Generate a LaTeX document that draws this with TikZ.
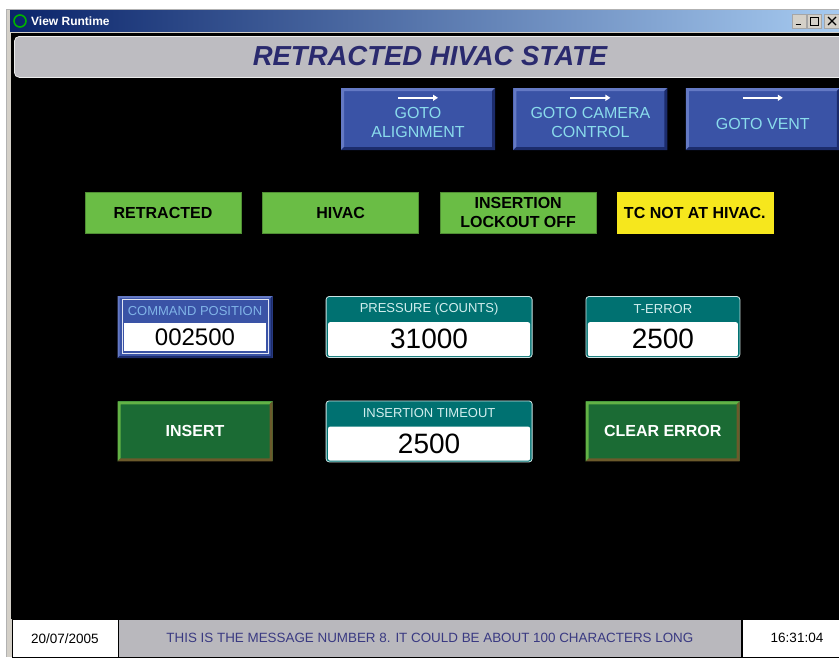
\documentclass[tikz,border=0pt]{standalone}
\usepackage{fontspec}
\setmainfont{Liberation Sans}
\usetikzlibrary{arrows.meta,positioning}

\definecolor{winnavy}{HTML}{0A246A}
\definecolor{winsky}{HTML}{A6CAF0}
\definecolor{winface}{HTML}{D4D0C8}
\definecolor{hdrgrey}{HTML}{BDBCC1}
\definecolor{hdrtext}{HTML}{2A2A6E}
\definecolor{gotofill}{HTML}{3A53A6}
\definecolor{gotolight}{HTML}{6479C4}
\definecolor{gotodark}{HTML}{1C2C6C}
\definecolor{gototext}{HTML}{8ADCEC}
\definecolor{stategreen}{HTML}{6ABD45}
\definecolor{stateyellow}{HTML}{F6E71D}
\definecolor{panelteal}{HTML}{007171}
\definecolor{tealtext}{HTML}{D2EEEE}
\definecolor{cmdtext}{HTML}{80B4E8}
\definecolor{btngreen}{HTML}{1B6B34}
\definecolor{btnlight}{HTML}{62B246}
\definecolor{btndark}{HTML}{6C5A2B}
\definecolor{msggrey}{HTML}{B9B8BD}
\definecolor{msgtext}{HTML}{3A3A82}

% raised edge: light top/left, dark bottom/right
\newcommand{\hmibevel}[3]{%
  \fill[#1] (path picture bounding box.south west) -- (path picture bounding box.north west)
    -- (path picture bounding box.north east) -- ([shift={(-#3,-#3)}]path picture bounding box.north east)
    -- ([shift={(#3,-#3)}]path picture bounding box.north west) -- ([shift={(#3,#3)}]path picture bounding box.south west) -- cycle;
  \fill[#2] (path picture bounding box.south west) -- (path picture bounding box.south east)
    -- (path picture bounding box.north east) -- ([shift={(-#3,-#3)}]path picture bounding box.north east)
    -- ([shift={(-#3,#3)}]path picture bounding box.south east) -- ([shift={(#3,#3)}]path picture bounding box.south west) -- cycle;
}

\begin{document}
\begin{tikzpicture}[x=1pt,y=-1pt,
  node distance=18pt,
  every node/.style={inner sep=0pt,align=center},
  winbtn/.style={minimum width=14pt,minimum height=14pt,fill=winface,draw=gray!70,line width=.5pt},
  gotobtn/.style={minimum width=154pt,minimum height=62pt,fill=gotofill,text=gototext,text height=37.5pt,
    font=\fontsize{16}{19}\selectfont,path picture={\hmibevel{gotolight}{gotodark}{3pt}}},
  gotoarrow/.style={-{Triangle[length=5pt,width=6pt]},white,line width=2pt},
  statebox/.style={minimum width=156pt,minimum height=41pt,fill=stategreen,draw=stategreen!75!black,
    line width=.6pt,font=\bfseries\fontsize{16}{19}\selectfont},
  cmdpanel/.style={minimum width=155pt,minimum height=62pt,fill=gotofill,
    path picture={\hmibevel{gotolight}{gotodark}{2pt}}},
  databox/.style={fill=panelteal,draw=white!80!panelteal,line width=.8pt,rounded corners=3pt,minimum height=61pt},
  datalabel/.style={text=tealtext,font=\fontsize{13}{15}\selectfont},
  dataval/.style={fill=white,rounded corners=2pt,minimum height=34pt,font=\fontsize{28}{30}\selectfont},
  cmdbtn/.style={minimum width=155pt,minimum height=60pt,fill=btngreen,text=white,
    font=\bfseries\fontsize{16}{19}\selectfont,path picture={\hmibevel{btnlight}{btndark}{3pt}}},
  barbox/.style={minimum height=38pt,draw=black,line width=.6pt,font=\fontsize{13.5}{16}\selectfont}
]
\useasboundingbox (0,0) rectangle (839,657);
\clip (0,0) rectangle (839,657);

% window frame and title bar
\fill[white] (0,0) rectangle (839,657);
\fill[winface] (6,9) rectangle (839,657);
\draw[gray!60,line width=.6pt] (6.3,657) -- (6.3,9.3) -- (839,9.3);
\shade[left color=winnavy,right color=winsky] (10,10) rectangle (839,31);
\fill[black] (11,33) rectangle (839,619);
\draw[green!70!black,line width=1.6pt] (20,21) circle (6pt);
\node[anchor=west,text=white,font=\bfseries\fontsize{12}{14}\selectfont] (wintitle) at (31,21) {View Runtime};
\node[winbtn] (winmin) at (799,21) {};
\node[winbtn,right=1pt of winmin] (winmax) {};
\node[winbtn,right=2pt of winmax,minimum width=16pt] (winclose) {};
\draw[line width=1.6pt] ([shift={(-3.5pt,-3.5pt)}]winmin.center) -- ([shift={(2pt,-3.5pt)}]winmin.center);
\draw[line width=.7pt] ([shift={(-4pt,4pt)}]winmax.center) rectangle ([shift={(4pt,-4pt)}]winmax.center);
\draw[line width=1.4pt] ([shift={(-4pt,3.6pt)}]winmax.center) -- ([shift={(4pt,3.6pt)}]winmax.center);
\draw[line width=1.2pt] ([shift={(-4pt,4pt)}]winclose.center) -- ([shift={(4pt,-4pt)}]winclose.center)
  ([shift={(-4pt,-4pt)}]winclose.center) -- ([shift={(4pt,4pt)}]winclose.center);

% header
\node[fill=hdrgrey,draw=white!85!gray,line width=.8pt,rounded corners=5pt,minimum width=840pt,
  minimum height=41pt,anchor=north west] (header) at (14,36) {};
\node[text=hdrtext,font=\bfseries\itshape\fontsize{27.5}{30}\selectfont] (headtitle) at (430,56.5) {RETRACTED HIVAC STATE};

% goto buttons
\node[gotobtn] (align) at (418,119) {GOTO\\ALIGNMENT};
\node[gotobtn,right=of align] (camera) {GOTO CAMERA\\CONTROL};
\node[gotobtn,right=of camera,text height=21.5pt] (vent) {GOTO VENT};
\foreach \btn in {align,camera,vent}
  \draw[gotoarrow] ([shift={(-20pt,-10pt)}]\btn.north) -- ([shift={(20pt,-10pt)}]\btn.north);

% state indicators
\node[statebox] (retracted) at (163,212.5) {RETRACTED};
\node[statebox,right=21pt of retracted] (hivac) {HIVAC};
\node[statebox,right=21pt of hivac] (lockout) {INSERTION\\LOCKOUT OFF};
\node[statebox,right=20pt of lockout,fill=stateyellow,draw=stateyellow] (tcstate) {TC NOT AT HIVAC.};

% values
\node[cmdpanel] (cmdpos) at (195,327) {};
\draw[white!85!gotofill,line width=.8pt] ([shift={(5pt,-4pt)}]cmdpos.north west) rectangle ([shift={(-4pt,5pt)}]cmdpos.south east);
\node[text=cmdtext,font=\fontsize{13}{15}\selectfont] (cmdlabel) at ([yshift=-15pt]cmdpos.north) {COMMAND POSITION};
\node[fill=white,minimum width=142pt,minimum height=28pt,font=\fontsize{24}{26}\selectfont,anchor=south] (cmdval)
  at ([yshift=7pt]cmdpos.south) {002500};

\node[databox,minimum width=206pt,right=53pt of cmdpos] (pressure) {};
\node[datalabel] (presslabel) at ([yshift=-13pt]pressure.north) {PRESSURE (COUNTS)};
\node[dataval,minimum width=202pt,anchor=south] (pressval) at ([yshift=1.5pt]pressure.south) {31000};

\node[databox,minimum width=154pt,right=53pt of pressure] (terror) {};
\node[datalabel] (terrlabel) at ([yshift=-13pt]terror.north) {T-ERROR};
\node[dataval,minimum width=150pt,anchor=south] (terrval) at ([yshift=1.5pt]terror.south) {2500};

\node[cmdbtn,below=43pt of cmdpos] (insert) {INSERT};
\node[databox,minimum width=206pt,right=53pt of insert] (timeout) {};
\node[datalabel] (timelabel) at ([yshift=-13pt]timeout.north) {INSERTION TIMEOUT};
\node[dataval,minimum width=202pt,anchor=south] (timeval) at ([yshift=1.5pt]timeout.south) {2500};
\node[cmdbtn,minimum width=154pt,right=53pt of timeout] (clearerr) {CLEAR ERROR};

% status bar
\node[barbox,fill=white,minimum width=106pt,anchor=north west] (datebox) at (11.5,619) {20/07/2005};
\node[barbox,fill=msggrey,text=msgtext,minimum width=623pt,right=0pt of datebox,font=\fontsize{13.4}{16}\selectfont] (message)
  {THIS IS THE MESSAGE NUMBER 8. IT COULD BE ABOUT 100 CHARACTERS LONG};
\node[barbox,fill=white,minimum width=110pt,right=0pt of message] (timebox) {16:31:04};
\end{tikzpicture}
\end{document}
